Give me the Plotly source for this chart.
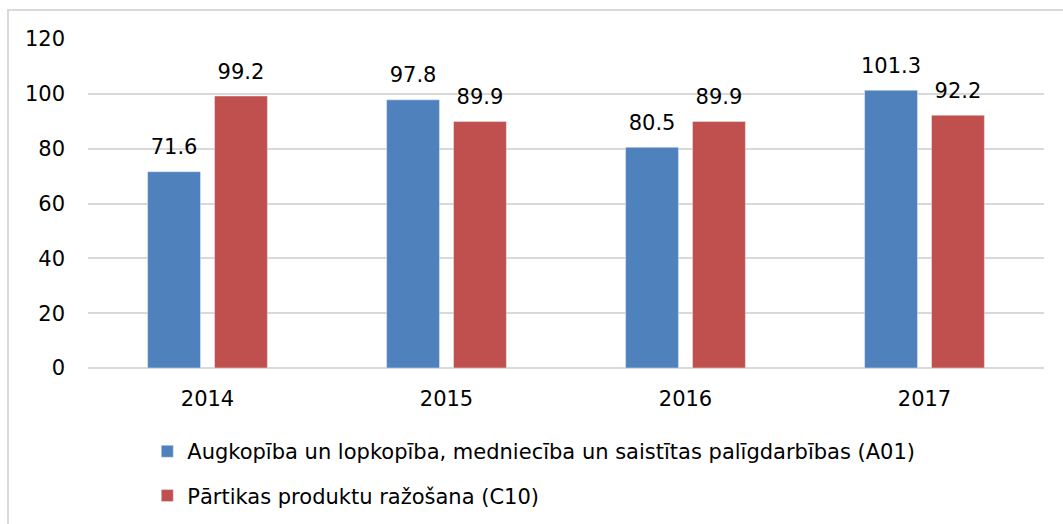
import plotly.graph_objects as go

years = ["2014", "2015", "2016", "2017"]
a01 = [71.6, 97.8, 80.5, 101.3]
c10 = [99.2, 89.9, 89.9, 92.2]
names = [
    "Augkopība un lopkopība, medniecība un saistītas palīgdarbības (A01)",
    "Pārtikas produktu ražošana (C10)",
]
colors = ["#4F81BD", "#C0504D"]

font = "DejaVu Sans"

fig = go.Figure()
for vals, name, col in zip([a01, c10], names, colors):
    fig.add_trace(
        go.Bar(
            x=years,
            y=vals,
            name=name,
            marker_color=col,
            legendgroup=name,
            offsetgroup=name,
        )
    )
# value labels: grouped text-only scatter so they sit a bit above the bars
for vals, name in zip([a01, c10], names):
    fig.add_trace(
        go.Scatter(
            x=years,
            y=vals,
            mode="markers+text",
            marker=dict(size=18, opacity=0),
            text=[f"{v:.1f}" for v in vals],
            textposition="top center",
            textfont=dict(size=21, color="#000000"),
            cliponaxis=False,
            showlegend=False,
            hoverinfo="skip",
            offsetgroup=name,
        )
    )

fig.update_layout(
    width=1063,
    height=524,
    barmode="group",
    scattermode="group",
    bargap=0.44,
    scattergap=0.44,
    bargroupgap=0.21,
    plot_bgcolor="white",
    paper_bgcolor="white",
    font=dict(family=font, size=21, color="#000000"),
    margin=dict(l=88, r=19, t=39, b=156),
    legend=dict(
        orientation="v",
        x=0.062,
        xanchor="left",
        y=0.015,
        yanchor="bottom",
        yref="container",
        tracegroupgap=14,
        font=dict(size=21),
        itemwidth=30,
    ),
)
fig.update_xaxes(showline=False, ticks="", tickfont=dict(size=21), ticklabelstandoff=16)
fig.update_yaxes(
    range=[0, 120],
    dtick=20,
    showgrid=True,
    gridcolor="#d9d9d9",
    gridwidth=1.5,
    zeroline=True,
    zerolinecolor="#d9d9d9",
    zerolinewidth=1.5,
    ticks="",
    ticklabelstandoff=22,
    tickfont=dict(size=21),
)
fig.add_shape(
    type="rect",
    xref="paper",
    yref="paper",
    x0=-80 / 956,
    x1=1.03,
    y0=-0.6,
    y1=1 + 29 / 329,
    line=dict(color="#d9d9d9", width=2),
    fillcolor="rgba(0,0,0,0)",
    layer="below",
)

fig.write_html(
    "out.html",
    config={"displayModeBar": False},
    post_script="document.body.style.margin='0';",
)
